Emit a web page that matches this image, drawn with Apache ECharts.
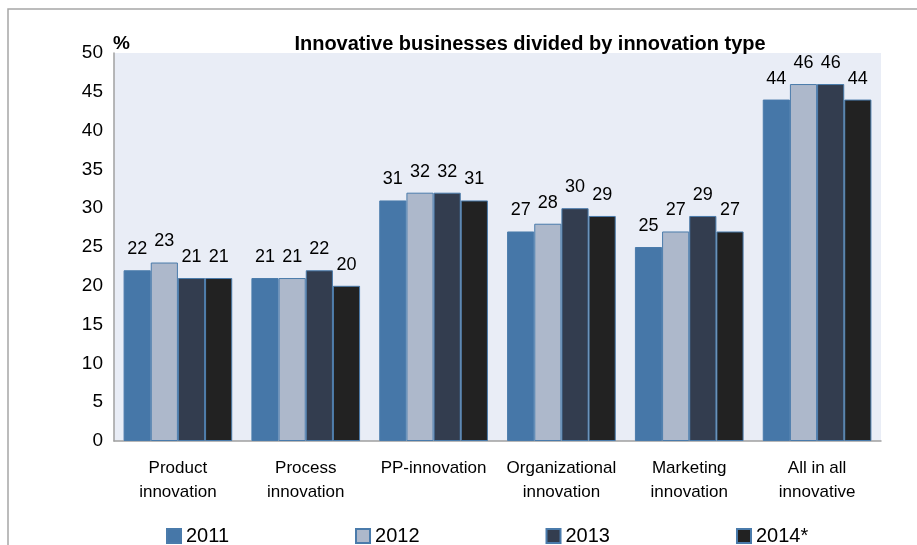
<!DOCTYPE html>
<html>
<head>
<meta charset="utf-8">
<script src="https://cdn.jsdelivr.net/npm/echarts@6/dist/echarts.min.js"></script>
<style>
  html, body { margin: 0; padding: 0; background: #fff; }
  #chart { width: 917px; height: 545px; }
</style>
</head>
<body>
<div id="chart"></div>
<script>
  // data
  const categories = ['Product\ninnovation', 'Process\ninnovation', 'PP-innovation', 'Organizational\ninnovation', 'Marketing\ninnovation', 'All in all\ninnovative'];
  const years = ['2011', '2012', '2013', '2014*'];
  const values2011 = [22, 21, 31, 27, 25, 44];
  const values2012 = [23, 21, 32, 28, 27, 46];
  const values2013 = [21, 22, 32, 30, 29, 46];
  const values2014 = [21, 20, 31, 29, 27, 44];
  const yTicks = [0, 5, 10, 15, 20, 25, 30, 35, 40, 45, 50];

  const barColors = ['#4677a8', '#adb8cb', '#333d4f', '#222222'];
  const font = 'Liberation Sans, Arial, sans-serif';

  const chart = echarts.init(document.getElementById('chart'));

  const seriesData = [values2011, values2012, values2013, values2014];
  const series = seriesData.map((vals, i) => ({
    name: years[i],
    type: 'bar',
    data: vals,
    barGap: '0%',
    barCategoryGap: '15%',
    itemStyle: {
      color: barColors[i],
      borderColor: '#4a7bab',
      borderWidth: 1
    },
    label: {
      show: true,
      position: 'top',
      distance: 12,
      color: '#000',
      fontFamily: font,
      fontSize: 18
    }
  }));

  const option = {
    animation: false,
    backgroundColor: '#fff',
    title: [
      {
        text: 'Innovative businesses divided by innovation type',
        left: 525,
        top: 29,
        textAlign: 'center',
        textStyle: { fontFamily: font, fontSize: 20, fontWeight: 'bold', color: '#000' }
      },
      {
        text: '%',
        left: 108,
        top: 29,
        textStyle: { fontFamily: font, fontSize: 19, fontWeight: 'bold', color: '#000' }
      }
    ],
    graphic: [
      {
        type: 'rect',
        shape: { x: 8, y: 9, width: 940, height: 600 },
        style: { fill: 'none', stroke: '#a6a6a6', lineWidth: 1.5 },
        silent: true
      }
    ],
    legend: {
      data: years,
      icon: 'rect',
      left: 161,
      top: 521,
      itemWidth: 14,
      itemHeight: 14,
      itemGap: 126,
      textStyle: { fontFamily: font, fontSize: 20, color: '#000' }
    },
    grid: {
      left: 114,
      right: 36,
      top: 53,
      bottom: 104,
      show: true,
      backgroundColor: '#e9edf6',
      borderWidth: 0
    },
    xAxis: {
      type: 'category',
      data: categories,
      axisLine: { show: true, lineStyle: { color: '#a0a0a0', width: 1.5 } },
      axisTick: { show: false },
      axisLabel: {
        interval: 0,
        margin: 15,
        color: '#000',
        fontFamily: font,
        fontSize: 17,
        lineHeight: 24
      }
    },
    yAxis: {
      type: 'value',
      min: yTicks[0],
      max: yTicks[yTicks.length - 1],
      interval: 5,
      axisLine: { show: true, lineStyle: { color: '#a0a0a0', width: 1.5 } },
      axisTick: { show: false },
      splitLine: { show: false },
      axisLabel: {
        margin: 11,
        color: '#000',
        fontFamily: font,
        fontSize: 19
      }
    },
    series: series
  };

  chart.setOption(option);
</script>
</body>
</html>
